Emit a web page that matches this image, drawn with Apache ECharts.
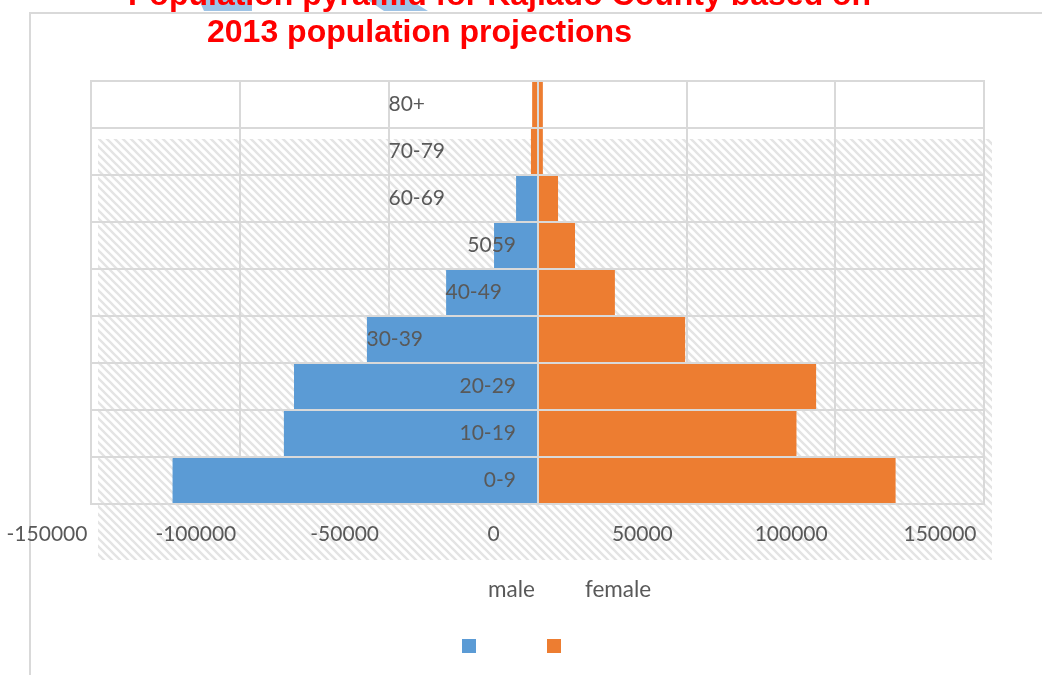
<!DOCTYPE html>
<html>
<head>
<meta charset="utf-8">
<script src="https://cdn.jsdelivr.net/npm/echarts@6/dist/echarts.min.js"></script>
<style>
html,body{margin:0;padding:0;background:#fff;}
#chart{width:1042px;height:675px;}
</style>
</head>
<body>
<div id="chart"></div>
<script>
// ---- data ----
const categories = ['0-9', '10-19', '20-29', '30-39', '40-49', '5059', '60-69', '70-79', '80+'];
const maleValues = [-122600, -85200, -81800, -57300, -30700, -14600, -7200, -2200, -1800];
const femaleValues = [120300, 87000, 93600, 49600, 26000, 12600, 6900, 1800, 1800];
const seriesNames = ['male', 'female'];
const titleLines = ['Population pyramid for Kajiado County based on', '2013 population projections'];
const xMin = -150000, xMax = 150000, xStep = 50000;

// ---- styles ----
const BLUE = '#5B9BD5', ORANGE = '#ED7D31', GRID = '#d9d9d9', TXT = '#595959';
const FONT = 'Lato';
// extra leftward shift of each category label (px), matching the reference placement
const labelShift = [0, 0, 0, 93, 14, 0, 71, 71, 91];
// male bars in the top two rows appear in the female colour in the reference
const maleColorOverride = [null, null, null, null, null, null, null, ORANGE, ORANGE];

const hatch = document.createElement('canvas');
hatch.width = 8; hatch.height = 8;
const hc = hatch.getContext('2d');
hc.fillStyle = '#ffffff'; hc.fillRect(0, 0, 8, 8);
hc.strokeStyle = '#e4e4e4'; hc.lineWidth = 2.4;
for (let k = -1; k <= 1; k++) {
  hc.beginPath(); hc.moveTo(-1, -1 + k * 8); hc.lineTo(9, 9 + k * 8); hc.stroke();
}

const rich = {};
labelShift.forEach((s, i) => {
  rich['s' + i] = { padding: [0, s, 0, 0], fontSize: 21, color: TXT, fontFamily: FONT };
});

const chart = echarts.init(document.getElementById('chart'));
chart.setOption({
  animation: false,
  backgroundColor: '#fff',
  title: [
    { text: titleLines[0], left: 128, top: -22, padding: 0,
      textStyle: { fontFamily: 'Liberation Sans', fontWeight: 'bold', fontSize: 32, lineHeight: 37, color: '#FF0000' } },
    { text: titleLines[1], left: 207, top: 15, padding: 0,
      textStyle: { fontFamily: 'Liberation Sans', fontWeight: 'bold', fontSize: 32, lineHeight: 37, color: '#FF0000' } }
  ],
  graphic: [
    { type: 'polyline', z: -5, silent: true, shape: { points: [[30, 675], [30, 13], [1042, 13]] },
      style: { stroke: GRID, lineWidth: 2, fill: null } },
    { type: 'polygon', z: -4, silent: true, shape: { points: [[199, 0], [252, 0], [252, 11], [204, 11]] },
      style: { fill: '#9DC3E6' } },
    { type: 'polygon', z: -4, silent: true, shape: { points: [[368, 0], [410, 0], [428, 11], [384, 11]] },
      style: { fill: '#9DC3E6' } },
    { type: 'rect', z: -10, silent: true, shape: { x: 98, y: 139, width: 894, height: 421 },
      style: { fill: { image: hatch, repeat: 'repeat' } } }
  ],
  grid: { left: 91, right: 58, top: 81, bottom: 171, show: true, borderColor: GRID, borderWidth: 2,
    containLabel: false, outerBoundsMode: 'none' },
  legend: [
    { data: seriesNames, left: 462, top: 639, padding: 0, icon: 'rect', itemWidth: 14, itemHeight: 14, itemGap: 71,
      formatter: () => '', textStyle: { fontSize: 1 } },
    { data: seriesNames, left: 483, top: 578, padding: 0, icon: 'none', itemWidth: 0, itemHeight: 14, itemGap: 45,
      textStyle: { fontFamily: FONT, fontSize: 22.5, color: TXT } }
  ],
  xAxis: {
    type: 'value', min: xMin, max: xMax, interval: xStep,
    axisLine: { show: false }, axisTick: { show: false },
    splitLine: { show: true, lineStyle: { color: GRID, width: 2 } },
    axisLabel: { fontFamily: FONT, fontSize: 21, color: TXT, margin: 20, padding: [0, 88, 0, 0],
      formatter: v => String(v), showMinLabel: true, showMaxLabel: true, hideOverlap: false }
  },
  yAxis: {
    type: 'category', data: categories, offset: -446, z: 10,
    axisLine: { show: false, onZero: false }, axisTick: { show: false },
    splitLine: { show: true, lineStyle: { color: GRID, width: 2 } },
    axisLabel: { margin: 21, interval: 0, hideOverlap: false, formatter: (v, i) => '{s' + i + '|' + v + '}', rich: rich }
  },
  series: [
    { name: seriesNames[0], type: 'bar', z: 2, barGap: '-100%', barCategoryGap: '4%',
      itemStyle: { color: BLUE },
      data: maleValues.map((v, i) => maleColorOverride[i] ? { value: v, itemStyle: { color: maleColorOverride[i] } } : v) },
    { name: seriesNames[1], type: 'bar', z: 2, barGap: '-100%', barCategoryGap: '4%',
      itemStyle: { color: ORANGE },
      data: femaleValues,
      markLine: { silent: true, symbol: 'none', label: { show: false },
        lineStyle: { color: GRID, width: 2, type: 'solid' }, data: [{ xAxis: 0 }] } }
  ]
});
</script>
</body>
</html>
